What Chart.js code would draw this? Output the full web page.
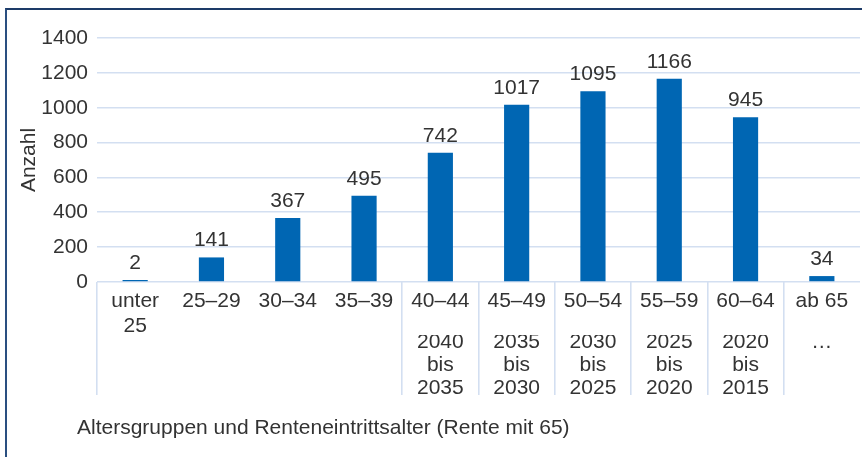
<!DOCTYPE html>
<html lang="de">
<head>
<meta charset="utf-8">
<script src="https://cdn.jsdelivr.net/npm/chart.js@4.4.1/dist/chart.umd.min.js"></script>
<style>
  html, body { margin: 0; padding: 0; background: #fff; }
  #wrap { position: relative; width: 862px; height: 457px; overflow: hidden; }
  #frame {
    position: absolute; left: 5px; top: 8px; right: -4px; bottom: -4px;
    border-left: 2px solid #2a4f80; border-top: 2px solid #1d3b68;
    pointer-events: none;
  }
  canvas { position: absolute; left: 0; top: 0; }
</style>
</head>
<body>
<div id="wrap">
  <canvas id="chart" width="862" height="457"></canvas>
  <div id="frame"></div>
</div>
<script>
// Altersgruppen (first label row) and Renteneintrittsjahre (second row)
const ageGroups = [
  ['unter', '25'], '25–29', '30–34', '35–39', '40–44',
  '45–49', '50–54', '55–59', '60–64', 'ab 65'
];
const retirementYears = [
  '', '', '', '',
  ['2040', 'bis', '2035'], ['2035', 'bis', '2030'], ['2030', 'bis', '2025'],
  ['2025', 'bis', '2020'], ['2020', 'bis', '2015'], ['…']
];
const counts = [2, 141, 367, 495, 742, 1017, 1095, 1166, 945, 34];

const yTicks = { min: 0, max: 1400, step: 200 };
const yTitle = 'Anzahl';
const xCaption = 'Altersgruppen und Renteneintrittsalter (Rente mit 65)';

const FONT = '"Liberation Sans", Arial, sans-serif';
const SIZE = 21;
const TEXT = '#333333';
const GRID = '#d3dff1';
const BAR = '#0066b3';

// separators sit between the groups of the second row only
const groupStart = (i) => i === 0 || (i >= 4 && i < ageGroups.length);
const sepColor = (ctx) => groupStart(ctx.index) ? GRID : 'rgba(0,0,0,0)';

// value labels above each bar, plus the left-aligned caption under the axis
const annotations = {
  id: 'annotations',
  afterDatasetsDraw(chart) {
    const { ctx } = chart;
    const meta = chart.getDatasetMeta(0);
    ctx.save();
    ctx.fillStyle = TEXT;
    ctx.font = SIZE + 'px ' + FONT;
    ctx.textAlign = 'center';
    ctx.textBaseline = 'alphabetic';
    meta.data.forEach((bar, i) => {
      ctx.fillText(String(counts[i]), bar.x, bar.y - 11);
    });
    ctx.restore();
  },
  afterDraw(chart) {
    const { ctx } = chart;
    const x2 = chart.scales.x2;
    ctx.save();
    ctx.fillStyle = TEXT;
    ctx.font = SIZE + 'px ' + FONT;
    ctx.textAlign = 'left';
    ctx.textBaseline = 'middle';
    ctx.fillText(xCaption, x2.left - 20, x2.bottom + 28);
    ctx.restore();
  }
};

new Chart(document.getElementById('chart'), {
  type: 'bar',
  data: {
    labels: ageGroups,
    datasets: [{
      data: counts,
      backgroundColor: BAR,
      borderWidth: 0,
      minBarLength: 2,
      barPercentage: 0.66,
      categoryPercentage: 0.5,
    }]
  },
  options: {
    responsive: false,
    animation: false,
    layout: { padding: { left: 18, right: 2, top: 38, bottom: 57 } },
    plugins: {
      legend: { display: false },
      tooltip: { enabled: false },
    },
    scales: {
      y: {
        min: yTicks.min,
        max: yTicks.max,
        ticks: {
          stepSize: yTicks.step, color: TEXT, padding: 9,
          font: { family: FONT, size: SIZE },
          callback: (v) => String(v),
        },
        grid: { color: GRID, lineWidth: 1.6, drawTicks: false },
        border: { display: false },
        title: {
          display: true,
          text: yTitle,
          color: TEXT,
          font: { family: FONT, size: SIZE, lineHeight: 1.1 },
          padding: { top: 0, bottom: 0 },
        },
        afterFit: (s) => { s.width = 79; },
      },
      x: {
        type: 'category',
        offset: true,
        grid: { offset: true, drawOnChartArea: false, tickLength: 53, lineWidth: 1.6, color: sepColor },
        border: { display: false },
        ticks: {
          color: TEXT, padding: -46.5, maxRotation: 0, autoSkip: false,
          font: { family: FONT, size: SIZE, lineHeight: 1.19 }
        },
        afterFit: (s) => { s.height = 53; },
      },
      x2: {
        type: 'category',
        position: 'bottom',
        labels: retirementYears,
        offset: true,
        grid: { offset: true, drawOnChartArea: false, tickLength: 60, lineWidth: 1.6, color: sepColor },
        border: { display: false },
        ticks: {
          color: TEXT, padding: -64.7, maxRotation: 0, autoSkip: false,
          font: { family: FONT, size: SIZE, lineHeight: 1.11 }
        },
        afterFit: (s) => { s.height = 65; },
      },
    },
  },
  plugins: [annotations],
});
</script>
</body>
</html>
